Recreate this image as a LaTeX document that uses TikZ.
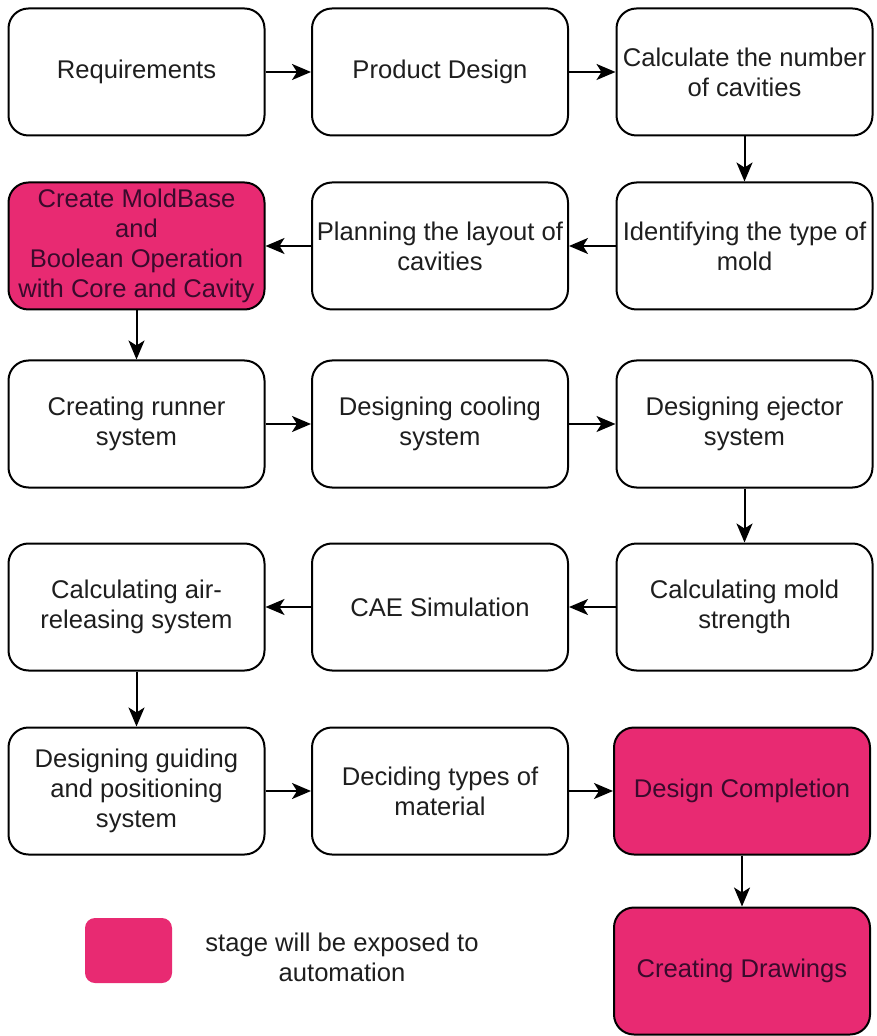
\documentclass[tikz,border=0pt]{standalone}
\usepackage{fontspec}
\setmainfont{Liberation Sans}
\usetikzlibrary{arrows.meta, positioning}
\definecolor{stagepink}{HTML}{E82A72}
\definecolor{stagetext}{HTML}{3A0A2C}
\definecolor{inkgray}{HTML}{1E1E1E}

\begin{document}
\begin{tikzpicture}[x=0.5pt, y=-0.5pt, font=\fontsize{12.8}{15}\selectfont,
  stagebox/.style={draw, line width=1pt, rounded corners=10pt, minimum width=128pt,
    minimum height=63.5pt, align=center, inner sep=1pt, text=inkgray},
  autobox/.style={stagebox, fill=stagepink, text=stagetext},
  flow/.style={-{Stealth[length=9.5pt, width=8pt, inset=2.5pt]}, line width=1pt}]
  \useasboundingbox (0,0) rectangle (876,1036);

  % row 1
  \node[stagebox] (req)  at (136.5,72)  {Requirements};
  \node[stagebox] (prod) at (440,72)    {Product Design};
  \node[stagebox] (cav)  at (744.5,72)  {Calculate the number\\of cavities};
  % row 2
  \node[autobox]  (mold) at (136.5,246) {Create MoldBase\\and\\Boolean Operation\\with Core and Cavity};
  \node[stagebox] (plan) at (440,246)   {Planning the layout of\\cavities};
  \node[stagebox] (type) at (744.5,246) {Identifying the type of\\mold};
  % row 3
  \node[stagebox] (runner) at (136.5,424) {Creating runner\\system};
  \node[stagebox] (cool)   at (440,424)   {Designing cooling\\system};
  \node[stagebox] (eject)  at (744.5,424) {Designing ejector\\system};
  % row 4
  \node[stagebox] (air)      at (136.5,607) {Calculating air-\\releasing system};
  \node[stagebox] (cae)      at (440,607)   {CAE Simulation};
  \node[stagebox] (strength) at (744.5,607) {Calculating mold\\strength};
  % row 5
  \node[stagebox] (guide) at (136.5,791) {Designing guiding\\and positioning\\system};
  \node[stagebox] (mat)   at (440,791)   {Deciding types of\\material};
  \node[autobox]  (done)  at (742,791)   {Design Completion};
  % row 6
  \node[autobox]  (draw)  at (742,971)   {Creating Drawings};

  % legend
  \node[fill=stagepink, rounded corners=5pt, minimum width=43.5pt, minimum height=32.5pt,
    inner sep=0pt] (key) at (128.5,950.5) {};
  \node[align=center, text=inkgray] (keytext) at (342,957) {stage will be exposed to\\automation};

  \draw[flow] (req) -- (prod);
  \draw[flow] (prod) -- (cav);
  \draw[flow] (cav) -- (type);
  \draw[flow] (type) -- (plan);
  \draw[flow] (plan) -- (mold);
  \draw[flow] (mold) -- (runner);
  \draw[flow] (runner) -- (cool);
  \draw[flow] (cool) -- (eject);
  \draw[flow] (eject) -- (strength);
  \draw[flow] (strength) -- (cae);
  \draw[flow] (cae) -- (air);
  \draw[flow] (air) -- (guide);
  \draw[flow] (guide) -- (mat);
  \draw[flow] (mat) -- (done);
  \draw[flow] (done) -- (draw);
\end{tikzpicture}
\end{document}
